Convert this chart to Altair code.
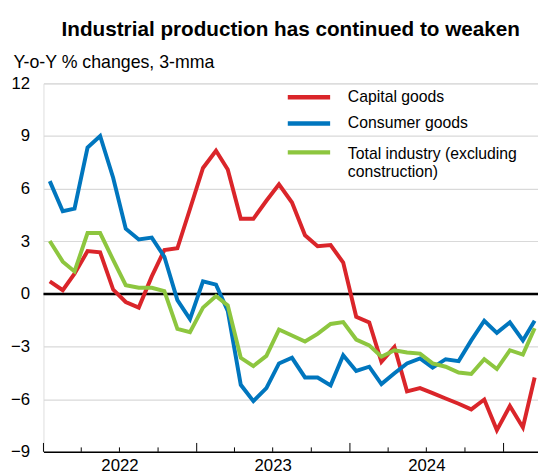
import altair as alt
import pandas as pd

# ---- data ----
months = [
    "2022-01", "2022-02", "2022-03", "2022-04", "2022-05", "2022-06",
    "2022-07", "2022-08", "2022-09", "2022-10", "2022-11", "2022-12",
    "2023-01", "2023-02", "2023-03", "2023-04", "2023-05", "2023-06",
    "2023-07", "2023-08", "2023-09", "2023-10", "2023-11", "2023-12",
    "2024-01", "2024-02", "2024-03", "2024-04", "2024-05", "2024-06",
    "2024-07", "2024-08", "2024-09", "2024-10", "2024-11", "2024-12",
    "2025-01", "2025-02", "2025-03",
]
capital = [0.72, 0.21, 1.15, 2.44, 2.37, 0.25, -0.46, -0.78, 1.0, 2.5,
           2.6, 4.84, 7.18, 8.16, 7.09, 4.28, 4.28, 5.31, 6.25, 5.21,
           3.34, 2.72, 2.78, 1.79, -1.3, -1.62, -3.87, -3.02, -5.55, -5.37,
           -5.65, -5.96, -6.26, -6.58, -6.02, -7.76, -6.39, -7.61, -4.76]
consumer = [6.43, 4.71, 4.86, 8.34, 9.0, 6.62, 3.72, 3.1, 3.21, 2.12,
            -0.35, -1.43, 0.72, 0.53, -0.97, -5.18, -6.11, -5.37, -3.96, -3.64,
            -4.76, -4.76, -5.21, -3.5, -4.39, -4.15, -5.14, -4.52, -3.96, -3.68,
            -4.2, -3.72, -3.83, -2.65, -1.53, -2.22, -1.62, -2.65, -1.53]
total = [3.02, 1.84, 1.28, 3.47, 3.47, 1.94, 0.5, 0.35, 0.35, 0.16,
         -1.99, -2.18, -0.78, -0.12, -0.65, -3.64, -4.11, -3.53, -2.03, -2.37,
         -2.71, -2.28, -1.71, -1.6, -2.6, -2.93, -3.58, -3.21, -3.34, -3.4,
         -3.96, -4.15, -4.48, -4.56, -3.72, -4.28, -3.21, -3.46, -1.96]

series_names = ["Capital goods", "Consumer goods",
                "Total industry (excluding construction)"]
legend_labels = [["Capital goods"], ["Consumer goods"],
                 ["Total industry (excluding", "construction)"]]
series_colors = ["#da252a", "#0076be", "#8dc63f"]
y_ticks = [-9, -6, -3, 0, 3, 6, 9, 12]
year_ticks = ["2022-01-01", "2023-01-01", "2024-01-01", "2025-01-01"]
quarter_ticks = ["2022-04-01", "2022-07-01", "2022-10-01",
                 "2023-04-01", "2023-07-01", "2023-10-01",
                 "2024-04-01", "2024-07-01", "2024-10-01"]
year_labels = [2022, 2023, 2024]

FONT = "Liberation Sans"
W, H = 502, 374

rows = []
for name, vals in zip(series_names, [capital, consumer, total]):
    for m, v in zip(months, vals):
        rows.append({"date": m + "-16", "series": name, "value": v})
df = pd.DataFrame(rows)

xscale = alt.Scale(type="utc", domain=["2022-01-01", "2025-03-24"])
yscale = alt.Scale(domain=[-9, 12], nice=False, zero=False)
cscale = alt.Scale(domain=series_names, range=series_colors)

x_axis = alt.Axis(
    values=[alt.DateTime(year=y, month=7, date=1, utc=True) for y in year_labels],
    labelExpr="utcFormat(datum.value, '%Y')",
    title=None, ticks=False, tickSize=0, grid=False,
    domain=True, domainColor="black", domainWidth=1.6,
    labelFontSize=17, labelColor="black", labelPadding=6, labelFont=FONT,
)
y_axis = alt.Axis(
    values=y_ticks, title="Y-o-Y % changes, 3-mma",
    titleAngle=0, titleX=-31, titleY=-21, titleAlign="left",
    titleBaseline="middle", titleFontSize=18, titleFontWeight="normal",
    titleColor="black", titleFont=FONT,
    labelFontSize=17, labelColor="black", labelPadding=14, labelFont=FONT,
    ticks=False, domain=False, grid=True, gridColor="#d9d9d9", gridWidth=1.2,
)

base = alt.Chart(df)

grid_layer = base.mark_line(opacity=0).encode(
    x=alt.X("date:T", scale=xscale, axis=x_axis),
    y=alt.Y("value:Q", scale=yscale, axis=y_axis),
)

zero = alt.Chart(pd.DataFrame({"y": [0]})).mark_rule(
    color="black", strokeWidth=2.5
).encode(y=alt.Y("y:Q", scale=yscale))

tick_df = pd.DataFrame(
    {"d": year_ticks + quarter_ticks,
     "kind": ["year"] * len(year_ticks) + ["quarter"] * len(quarter_ticks)}
)
year_tick_layer = alt.Chart(tick_df).transform_filter(
    "datum.kind == 'year'"
).mark_rule(color="black", strokeWidth=1).encode(
    x=alt.X("d:T", scale=xscale), y=alt.value(H - 9), y2=alt.value(H)
)
quarter_tick_layer = alt.Chart(tick_df).transform_filter(
    "datum.kind == 'quarter'"
).mark_rule(color="black", strokeWidth=1).encode(
    x=alt.X("d:T", scale=xscale), y=alt.value(H - 4.5), y2=alt.value(H)
)

line_layers = []
for name in series_names:
    line_layers.append(
        base.transform_filter(alt.datum.series == name).mark_line(
            strokeWidth=4, strokeJoin="miter"
        ).encode(
            x=alt.X("date:T", scale=xscale),
            y=alt.Y("value:Q", scale=yscale),
            color=alt.Color("series:N", scale=cscale, legend=None),
        )
    )

# manual legend
legend_layers = []
one = pd.DataFrame({"k": [0]})
for color, label, ly, ty in zip(series_colors, legend_labels,
                                [14, 40.7, 70], [14, 40.7, 71.5]):
    legend_layers.append(
        alt.Chart(one).mark_rule(color=color, strokeWidth=4.5).encode(
            x=alt.value(248), x2=alt.value(291), y=alt.value(ly)
        )
    )
    legend_layers.append(
        alt.Chart(one).mark_text(
            align="left", baseline="middle", fontSize=16, font=FONT,
            color="black", lineHeight=18.4
        ).encode(x=alt.value(309), y=alt.value(ty), text=alt.value(label))
    )

chart = alt.layer(
    grid_layer, zero, *line_layers, year_tick_layer, quarter_tick_layer,
    *legend_layers
).properties(
    width=W, height=H,
    title=alt.TitleParams(
        "Industrial production has continued to weaken",
        fontSize=21, fontWeight="bold", font=FONT, color="black",
        anchor="middle", frame="group", offset=14,
    ),
    autosize=alt.AutoSizeParams(type="none"),
    padding={"left": 36, "top": 73, "right": 0, "bottom": 21},
).configure_view(stroke=None).configure(font=FONT)

chart.save("out.html", embed_options={"renderer": "svg", "actions": False})
